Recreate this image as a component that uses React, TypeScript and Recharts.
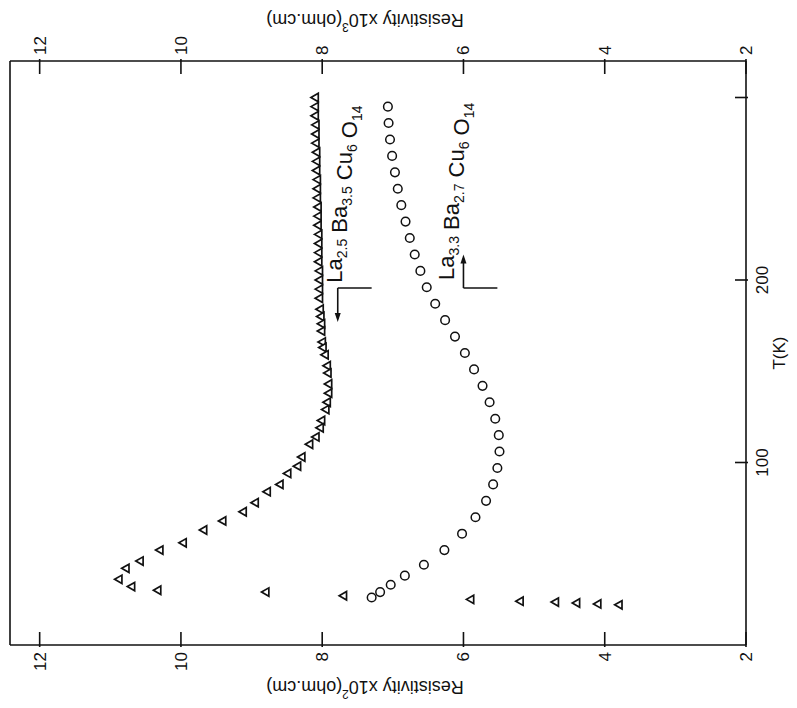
import React from 'react';
import { ComposedChart, Scatter, XAxis, YAxis, ReferenceDot, ReferenceLine } from 'recharts';

// Temperature (K) and resistivity for La2.5Ba3.5Cu6O14 (triangles, x10^2 ohm.cm axis)
const triT = [300, 295, 290, 285, 280, 275, 270, 265, 260, 255, 250, 245, 240, 235, 230, 225, 220, 215, 210, 205, 200, 195, 190, 184, 180, 176, 172, 166, 163, 159, 153, 149, 143, 138, 133, 129, 123, 119, 114, 110, 103, 98, 94, 88, 84, 78, 73, 68, 63, 56, 52, 46, 42, 36, 32, 30, 29, 27, 25, 24, 23.5, 23, 22.5, 22];
const triR = [8.10, 8.10, 8.10, 8.09, 8.09, 8.09, 8.08, 8.08, 8.08, 8.07, 8.07, 8.07, 8.06, 8.06, 8.06, 8.05, 8.05, 8.05, 8.05, 8.04, 8.04, 8.04, 8.04, 8.03, 8.02, 8.01, 8.01, 8.0, 7.99, 7.96, 7.93, 7.92, 7.91, 7.91, 7.93, 7.95, 8.01, 8.03, 8.09, 8.18, 8.29, 8.35, 8.49, 8.60, 8.78, 8.95, 9.12, 9.41, 9.68, 9.97, 10.30, 10.58, 10.78, 10.88, 10.70, 10.33, 8.8, 7.7, 5.9, 5.2, 4.7, 4.4, 4.1, 3.8];

// La3.3Ba2.7Cu6O14 (circles, x10^3 ohm.cm axis)
const cirT = [295, 286, 277, 268, 259, 250, 241, 232, 223, 214, 205, 196, 187, 178, 169, 160, 151, 142, 133, 124, 115, 106, 97, 88, 79, 70, 61, 52, 44, 38, 33, 29, 26];
const cirR = [7.07, 7.06, 7.04, 7.01, 6.97, 6.93, 6.88, 6.82, 6.76, 6.69, 6.61, 6.52, 6.40, 6.26, 6.12, 5.98, 5.85, 5.73, 5.63, 5.55, 5.50, 5.49, 5.52, 5.58, 5.68, 5.83, 6.02, 6.27, 6.56, 6.83, 7.03, 7.18, 7.3];

const resTicks = [2, 4, 6, 8, 10, 12];
const tTicks = [100, 200, 300];
const tLabels = ['100', '200', ''];

// annotation anchors (T, R)
const triLabelAt = { T: 198.5, R: 7.72 };
const cirLabelAt = { T: 200, R: 6.14 };
const triArrow = { T0: 195.6, T1: 177, R0: 7.78, R1: 7.3 };
const cirArrow = { T0: 195.6, T1: 214, R0: 6.0, R1: 5.52 };

const triData = triT.map((t, i) => ({ T: t, R: triR[i] }));
const cirData = cirT.map((t, i) => ({ T: t, R: cirR[i] }));

const FONT = 'Liberation Sans, Arial, sans-serif';
const INK = '#111';

const Tri = (p: any) => {
  const { cx, cy } = p;
  if (cx == null || cy == null) return null;
  const s = 4.2;
  return <polygon points={`${cx},${cy - s} ${cx - s},${cy + s * 0.75} ${cx + s},${cy + s * 0.75}`} fill="#fff" stroke={INK} strokeWidth={1.7} />;
};
const Circ = (p: any) => {
  const { cx, cy } = p;
  if (cx == null || cy == null) return null;
  return <circle cx={cx} cy={cy} r={4.3} fill="#fff" stroke={INK} strokeWidth={1.5} />;
};

const LeftTick = (p: any) => {
  const { x, y, payload } = p;
  return (
    <g>
      <line x1={x} y1={y} x2={x + 15} y2={y} stroke={INK} strokeWidth={1.6} />
      <text x={x - 5} y={y} dy={6} textAnchor="end" fontSize={17} fontFamily={FONT} fill={INK}>{payload.value}</text>
    </g>
  );
};
const RightTick = (p: any) => {
  const { x, y, payload } = p;
  return (
    <g>
      <line x1={x} y1={y} x2={x - 15} y2={y} stroke={INK} strokeWidth={1.6} />
      <text x={x + 4} y={y} dy={6} textAnchor="start" fontSize={17} fontFamily={FONT} fill={INK}>{payload.value}</text>
    </g>
  );
};
const BottomTick = (p: any) => {
  const { x, y, payload } = p;
  return (
    <g>
      <line x1={x} y1={y} x2={x} y2={y - 13} stroke={INK} strokeWidth={1.6} />
      <text x={x} y={y + 20} textAnchor="middle" fontSize={17} fontFamily={FONT} fill={INK}>{tLabels[tTicks.indexOf(payload.value)]}</text>
    </g>
  );
};

const AxisTitle = ({ viewBox, text, sup, dxFrom }: any) => {
  if (!viewBox) return null;
  const x = dxFrom === 'left' ? viewBox.x + 21 : viewBox.x + viewBox.width - 20;
  const y = viewBox.y + viewBox.height / 2 - 13;
  return (
    <text x={x} y={y} transform={`rotate(-90, ${x}, ${y})`} textAnchor="middle" dominantBaseline="central" fontSize={18} fontFamily={FONT} fill={INK}>
      <tspan>{text[0]}</tspan>
      <tspan fontSize={12} dy={-7}>{sup}</tspan>
      <tspan dy={7}>{text[1]}</tspan>
    </text>
  );
};

const Formula = ({ parts, x, y }: any) => (
  <text x={x} y={y} fontFamily={FONT} fontSize={22} fill={INK}>
    {parts.map((pt: any, i: number) => (
      <React.Fragment key={i}>
        <tspan dy={0}>{(i > 0 ? '\u00A0' : '') + pt[0]}</tspan>
        <tspan fontSize={14} dy={5}>{pt[1]}</tspan>
        <tspan dy={-5}>{''}</tspan>
      </React.Fragment>
    ))}
  </text>
);

const triLabel = [['La', '2.5'], ['Ba', '3.5'], ['Cu', '6'], ['O', '14']];
const cirLabel = [['La', '3.3'], ['Ba', '2.7'], ['Cu', '6'], ['O', '14']];

const LabelShape = (parts: any) => (p: any) => <Formula parts={parts} x={p.cx} y={p.cy} />;
const HeadLeft = (p: any) => <polygon points={`${p.cx},${p.cy} ${p.cx + 9},${p.cy - 3} ${p.cx + 9},${p.cy + 3}`} fill={INK} />;
const HeadRight = (p: any) => <polygon points={`${p.cx},${p.cy} ${p.cx - 9},${p.cy - 3} ${p.cx - 9},${p.cy + 3}`} fill={INK} />;

const line = { stroke: INK, strokeWidth: 1.6 };

export default function App() {
  return (
    <div style={{ position: 'absolute', left: 0, top: 0, width: 797, height: 708, overflow: 'hidden', background: '#fff' }}>
      <div style={{ position: 'absolute', left: 0, top: 0, width: 708, height: 797, transformOrigin: '0 0', transform: 'translate(0px, 708px) rotate(-90deg)' }}>
        <ComposedChart width={708} height={797} margin={{ top: 0, right: 0, bottom: 0, left: 0 }}>
          <XAxis xAxisId="b" type="number" dataKey="T" domain={[0, 320]} ticks={tTicks} height={51} tickSize={0} tickLine={false}
            axisLine={line} tick={<BottomTick />} interval={0}
            label={{ value: 'T(K)', position: 'insideBottom', offset: -2, fontSize: 17, fontFamily: FONT, fill: INK, dy: -14 }} />
          <XAxis xAxisId="t" orientation="top" type="number" domain={[0, 320]} height={10} tick={false} tickLine={false} axisLine={line} />
          <YAxis yAxisId="l" type="number" domain={[2, 12.42]} ticks={resTicks} width={63} tickSize={0} tickLine={false} interval={0}
            axisLine={line} tick={<LeftTick />}
            label={(p: any) => <AxisTitle viewBox={p.viewBox} text={['Resistivity x10', '(ohm.cm)']} sup="2" dxFrom="left" />} />
          <YAxis yAxisId="r" orientation="right" type="number" domain={[2, 12.42]} ticks={resTicks} width={61} tickSize={0} tickLine={false} interval={0}
            axisLine={line} tick={<RightTick />}
            label={(p: any) => <AxisTitle viewBox={p.viewBox} text={['Resistivity x10', '(ohm.cm)']} sup="3" dxFrom="right" />} />
          <Scatter xAxisId="b" yAxisId="l" data={triData} dataKey="R" shape={Tri} isAnimationActive={false} />
          <Scatter xAxisId="b" yAxisId="r" data={cirData} dataKey="R" shape={Circ} isAnimationActive={false} />
          <ReferenceDot xAxisId="b" yAxisId="l" x={triLabelAt.T} y={triLabelAt.R} r={0} shape={LabelShape(triLabel)} />
          <ReferenceDot xAxisId="b" yAxisId="r" x={cirLabelAt.T} y={cirLabelAt.R} r={0} shape={LabelShape(cirLabel)} />
          <ReferenceLine xAxisId="b" yAxisId="l" segment={[{ x: triArrow.T0, y: triArrow.R0 }, { x: triArrow.T0, y: triArrow.R1 }]} {...line} />
          <ReferenceLine xAxisId="b" yAxisId="l" segment={[{ x: triArrow.T0, y: triArrow.R0 }, { x: triArrow.T1 + 2, y: triArrow.R0 }]} {...line} />
          <ReferenceDot xAxisId="b" yAxisId="l" x={triArrow.T1} y={triArrow.R0} r={0} shape={HeadLeft} />
          <ReferenceLine xAxisId="b" yAxisId="r" segment={[{ x: cirArrow.T0, y: cirArrow.R0 }, { x: cirArrow.T0, y: cirArrow.R1 }]} {...line} />
          <ReferenceLine xAxisId="b" yAxisId="r" segment={[{ x: cirArrow.T0, y: cirArrow.R0 }, { x: cirArrow.T1 - 2, y: cirArrow.R0 }]} {...line} />
          <ReferenceDot xAxisId="b" yAxisId="r" x={cirArrow.T1} y={cirArrow.R0} r={0} shape={HeadRight} />
        </ComposedChart>
      </div>
    </div>
  );
}
